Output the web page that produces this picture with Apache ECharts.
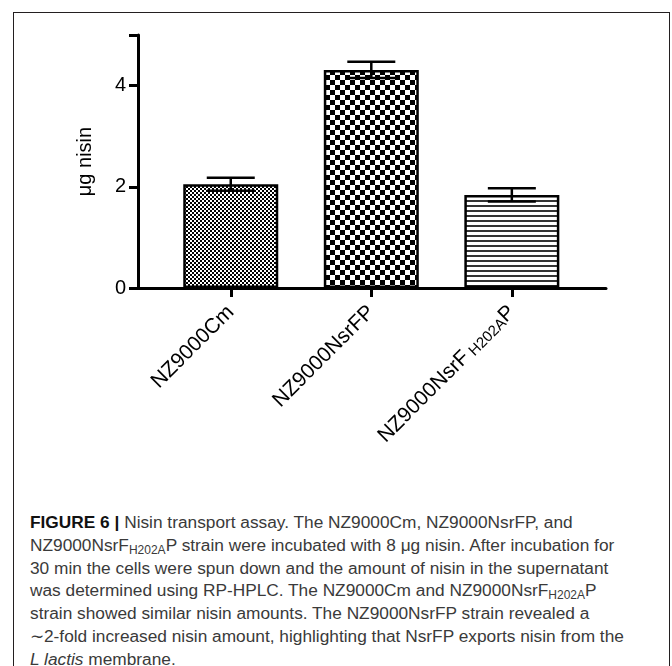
<!DOCTYPE html>
<html><head><meta charset="utf-8">
<script src="https://cdn.jsdelivr.net/npm/echarts@6/dist/echarts.min.js"></script>
<style>
html,body{margin:0;padding:0;background:#fff;overflow:hidden;width:672px;height:666px;}
#frame{position:absolute;left:13px;top:12px;width:655px;height:660px;border:1px solid #231f20;border-bottom:none;}
#chart{position:absolute;left:0;top:0;width:672px;height:500px;}
#cap{position:absolute;left:30px;top:511px;font-family:'Liberation Sans',Arial,sans-serif;font-size:17.3px;line-height:22.8px;color:#3a3a3a;white-space:nowrap;}
#cap b{color:#111;}
#cap sub{font-size:12px;vertical-align:-3px;line-height:0;}
</style></head><body>
<div id="frame"></div>
<div id="chart"></div>
<div id="cap">
<b>FIGURE 6 |</b> Nisin transport assay. The NZ9000Cm, NZ9000NsrFP, and<br>
NZ9000NsrF<sub>H202A</sub>P strain were incubated with 8 μg nisin. After incubation for<br>
30 min the cells were spun down and the amount of nisin in the supernatant<br>
was determined using RP-HPLC. The NZ9000Cm and NZ9000NsrF<sub>H202A</sub>P<br>
strain showed similar nisin amounts. The NZ9000NsrFP strain revealed a<br>
∼2-fold increased nisin amount, highlighting that NsrFP exports nisin from the<br>
<i>L lactis</i> membrane.
</div>
<script>
// ---- data ----
const categories = ['NZ9000Cm', 'NZ9000NsrFP', 'NZ9000NsrF_H202A_P'];
const means = [2.05, 4.31, 1.84];
const errors = [0.13, 0.16, 0.13];
const yTicks = [0, 2, 4];

// ---- patterns ----
function checker(cell) {
  const c = document.createElement('canvas');
  c.width = c.height = cell * 2;
  const g = c.getContext('2d');
  g.fillStyle = '#fff'; g.fillRect(0, 0, cell * 2, cell * 2);
  g.fillStyle = '#000';
  g.fillRect(0, 0, cell, cell); g.fillRect(cell, cell, cell, cell);
  return c;
}
function stripes(period, thick) {
  const c = document.createElement('canvas');
  c.width = 4; c.height = period;
  const g = c.getContext('2d');
  g.fillStyle = '#fff'; g.fillRect(0, 0, 4, period);
  g.fillStyle = '#333'; g.fillRect(0, 0, 4, thick);
  return c;
}
const patterns = [checker(2), checker(5), stripes(5, 2)];

function labelFmt(v) {
  const i = Math.round(v);
  const name = categories[i] || '';
  if (name.indexOf('_') >= 0) {
    const p = name.split('_');
    return '{a|' + p[0] + '}{s| ' + p[1] + '}{a|' + p[2] + '}';
  }
  return name;
}

const FF = 'Liberation Sans, Arial, sans-serif';
const chart = echarts.init(document.getElementById('chart'), null, {renderer: 'canvas'});
chart.setOption({
  animation: false,
  grid: {left: 138, right: 66, top: 35, bottom: 212},
  xAxis: {
    type: 'value', min: -0.66, max: 2.67,
    splitLine: {show: false},
    axisLine: {show: true, onZero: false, lineStyle: {color: '#000', width: 3}},
    axisTick: {show: true, customValues: [0, 1, 2], length: 9, lineStyle: {color: '#000', width: 3}},
    axisLabel: {
      customValues: [0, 1, 2], rotate: 45, margin: 21,
      color: '#000', fontSize: 21, fontFamily: FF,
      formatter: labelFmt,
      rich: {
        a: {fontSize: 21, color: '#000', fontFamily: FF, lineHeight: 21},
        s: {fontSize: 15, color: '#000', fontFamily: FF, lineHeight: 4, verticalAlign: 'bottom'}
      }
    }
  },
  yAxis: {
    type: 'value', min: 0, max: 5, interval: 2,
    splitLine: {show: false},
    axisLine: {show: true, onZero: false, lineStyle: {color: '#000', width: 3}},
    axisTick: {show: true, length: 9, lineStyle: {color: '#000', width: 3}},
    axisLabel: {color: '#000', fontSize: 20, margin: 12, fontFamily: FF,
      formatter: v => (yTicks.indexOf(v) >= 0 ? String(v) : '')},
    name: 'μg nisin', nameLocation: 'middle', nameGap: 43,
    nameTextStyle: {color: '#000', fontSize: 20, fontFamily: FF}
  },
  series: [
    {
      type: 'bar', barWidth: 95,
      data: means.map((m, i) => ({
        value: [i, m],
        itemStyle: {color: {image: patterns[i], repeat: 'repeat'}, borderColor: '#000', borderWidth: 2.5}
      })),
      z: 2
    },
    {
      type: 'custom', z: 10,
      encode: {x: 0, y: 1},
      data: means.map((m, i) => [i, m, errors[i]]),
      renderItem: function (params, api) {
        const x = api.value(0), m = api.value(1), e = api.value(2);
        const t = api.coord([x, m + e]), b = api.coord([x, m - e]);
        const hw = 24;
        const st = {stroke: '#000', lineWidth: 2.5};
        return {type: 'group', children: [
          {type: 'line', shape: {x1: t[0], y1: t[1], x2: b[0], y2: b[1]}, style: st},
          {type: 'line', shape: {x1: t[0] - hw, y1: t[1], x2: t[0] + hw, y2: t[1]}, style: st},
          {type: 'line', shape: {x1: b[0] - hw, y1: b[1], x2: b[0] + hw, y2: b[1]}, style: st}
        ]};
      }
    }
  ]
});
</script>
</body></html>
